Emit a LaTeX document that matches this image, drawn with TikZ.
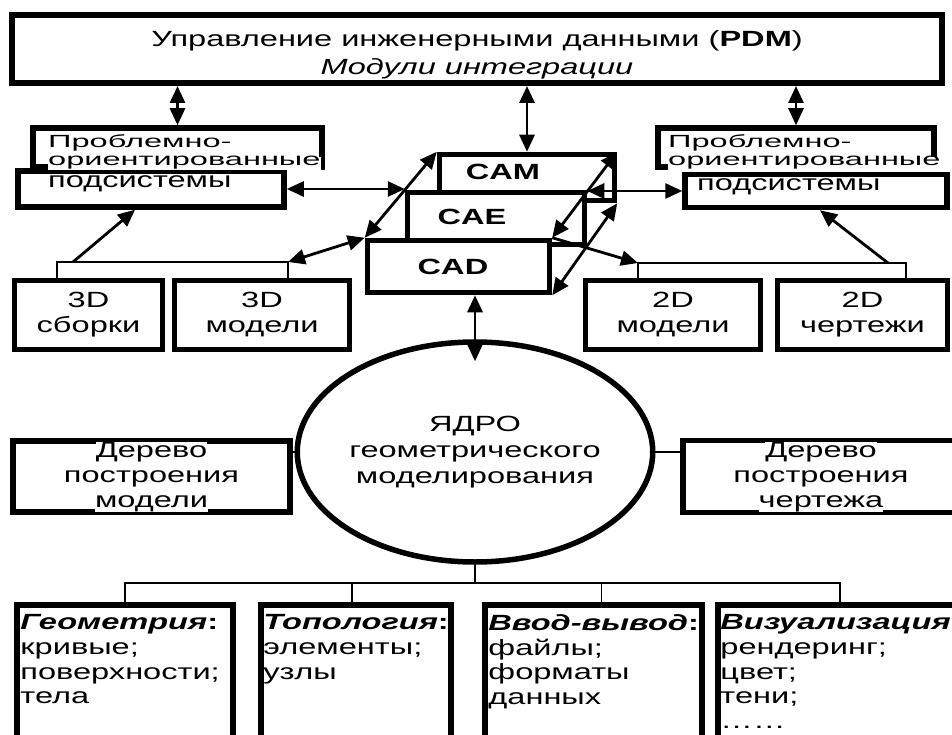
\documentclass[tikz,border=0pt]{standalone}
\usepackage{fontspec}
\setmainfont{Liberation Sans}[FakeStretch=1.48]
\usetikzlibrary{arrows.meta,shapes.geometric}

\newcommand{\fs}{\fontsize{22}{25}\selectfont}
\newcommand{\wb}[1]{{\fboxsep=0pt\colorbox{white}{#1}}}
\newcommand{\squeeze}[1]{\scalebox{1}[0.8]{#1}}

\tikzstyle{blk} = [rectangle, draw=black, line width=5.5pt, fill=white, inner sep=0pt, align=center]
\tikzstyle{txt} = [inner sep=0pt, align=center]
\tikzstyle{tie} = [line width=1.6pt]
\tikzstyle{arr} = [line width=2.8pt, >={Triangle[length=17pt,width=15pt]}]

\begin{document}
\begin{tikzpicture}[x=1pt, y=-1pt, font=\fs]
\useasboundingbox (0,0) rectangle (952,735);

% PDM
\node (pdm) [blk, line width=6pt, minimum width=930pt, minimum height=68pt] at (477,49) {};
\node (pdmtext) [txt, font=\fontsize{22}{28}\selectfont] at (477,55) {Управление инженерными данными (\textbf{PDM})\\\textit{Модули интеграции}};

% problem-oriented subsystems
\node (lback) [blk, minimum width=289pt, minimum height=39pt] at (177.5,147.5) {};
\node (lfront) [blk, minimum width=266pt, minimum height=36pt] at (151,189) {};
\node (lsub2) [txt, fill=white, anchor=base west] at (48,166) {\squeeze{ориентированные}};
\node (lsub1) [txt, fill=white, anchor=base west] at (48,148) {\squeeze{Проблемно-}};
\node (lsub3) [txt, anchor=base west] at (48,188) {подсистемы};

\node (rback) [blk, minimum width=276pt, minimum height=39pt] at (796,147.5) {};
\node (rfront) [blk, minimum width=262pt, minimum height=33pt] at (816,191) {};
\node (rsub2) [txt, fill=white, anchor=base west] at (668,166) {\squeeze{ориентированные}};
\node (rsub1) [txt, fill=white, anchor=base west] at (668,148) {\squeeze{Проблемно-}};
\node (rsub3) [txt, anchor=base west] at (697,191) {подсистемы};

% CAM / CAE / CAD
\node (cam) [blk, minimum width=175pt, minimum height=46pt] at (527,177.5) {};
\node (cae) [blk, minimum width=177pt, minimum height=52pt] at (496,218.5) {};
\node (cad) [blk, minimum width=182pt, minimum height=52pt] at (458.5,266.5) {};
\node (camlbl) [txt, font=\fs\bfseries] at (503,172) {CAM};
\node (caelbl) [txt, font=\fs\bfseries] at (472,217) {CAE};
\node (cadlbl) [txt, font=\fs\bfseries] at (453,267) {CAD};

\draw [arr, <->] (lback.north) -- (lback.north |- pdm.south);
\draw [arr, <->] (cam.north) -- (cam.north |- pdm.south);
\draw [arr, <->] (rback.north) -- (rback.north |- pdm.south);
\draw [arr, <->] (cad.north west) -- (cam.north west);
\draw [arr, <->] (cad.north east) -- (cam.north east);
\draw [arr, <->] (cad.south east) -- (cam.south east);
\draw [arr, <->] (lfront.east) -- (lfront.east -| cae.west);
\draw [arr, <->] (rfront.west) -- (rfront.west -| cae.east);

% 3D / 2D
\node (sb3) [blk, minimum width=148pt, minimum height=69pt] at (88.5,315) {3D\\сборки};
\node (md3) [blk, minimum width=175pt, minimum height=69pt] at (262,315) {3D\\модели};
\node (md2) [blk, minimum width=175pt, minimum height=69pt] at (673,315) {2D\\модели};
\node (dr2) [blk, minimum width=170pt, minimum height=69pt] at (862.5,315) {2D\\чертежи};

\coordinate (tl1) at (57,262);
\coordinate (tl2) at (288,262);
\coordinate (tr1) at (638,263);
\coordinate (tr2) at (906,263);
\coordinate (upl) at (73,262);
\coordinate (upr) at (888,263);
\draw [tie] (tl1 |- sb3.north) -- (tl1) -- (tl2) -- (tl2 |- md3.north);
\draw [tie] (tr1 |- md2.north) -- (tr1) -- (tr2) -- (tr2 |- dr2.north);
\draw [arr, ->] (upl) -- ([xshift=-16pt]lfront.south);
\draw [arr, ->] (upr) -- ([xshift=4pt]rfront.south);
\draw [arr, <->] (tl2) -- (cad.north west);
\draw [arr, ->] (cad.north east) -- (tr1);

% kernel
\node (core) [ellipse, draw, line width=5.5pt, minimum width=324pt, minimum height=220pt, align=center, inner sep=0pt, font=\fontsize{22}{26}\selectfont] at (475,452) {ЯДРО\\геометрического\\моделирования};
\draw [arr, <->] (cad.south -| core.north) -- ([yshift=-22pt]core.north);

\node (ltree) [blk, minimum width=277pt, minimum height=71pt] at (151.5,476.5) {};
\node (ltreetxt) [txt] at (151.5,477) {\wb{Дерево}\\\wb{построения}\\\wb{модели}};
\node (rtree) [blk, minimum width=282pt, minimum height=72pt] at (824,476.5) {};
\node (rtreetxt) [txt] at (821,477) {\wb{Дерево}\\\wb{построения}\\\wb{чертежа}};
\draw [tie] (core.west) -- (core.west -| ltree.east);
\draw [tie] (core.east) -- (core.east -| rtree.west);

% modules
\node (geo) [blk, minimum width=216pt, minimum height=155pt] at (125,682.5) {};
\node (topo) [blk, minimum width=190pt, minimum height=155pt] at (356,682.5) {};
\node (io) [blk, minimum width=217pt, minimum height=155pt] at (593.5,682.5) {};
\node (vis) [blk, minimum width=252pt, minimum height=155pt] at (844,682.5) {};

\coordinate (bus) at (475,583);
\draw [tie] (core.south) -- (bus);
\draw [tie] (geo.north) |- (bus) -| ([xshift=-4pt]vis.north);
\draw [tie] ([xshift=-4pt]topo.north) -- ([xshift=-4pt]topo.north |- bus);
\draw [tie] ([xshift=8pt]io.north) -- ([xshift=8pt]io.north |- bus);

\node (geotxt) [txt, align=left, anchor=north west, font=\fontsize{22}{24.8}\selectfont] at ([xshift=6pt,yshift=-12pt]geo.north west) {\textbf{\textit{Геометрия}:}\\кривые;\\поверхности;\\тела};
\node (topotxt) [txt, align=left, anchor=north west, font=\fontsize{22}{24.8}\selectfont] at ([xshift=5pt,yshift=-12pt]topo.north west) {\textbf{\textit{Топология}:}\\элементы;\\узлы};
\node (iotxt) [txt, align=left, anchor=north west, font=\fontsize{22}{24.8}\selectfont] at ([xshift=6pt,yshift=-12pt]io.north west) {\textbf{\textit{Ввод-вывод}:}\\файлы;\\форматы\\данных};
\node (vistxt) [txt, align=left, anchor=north west, font=\fontsize{22}{24.8}\selectfont] at ([xshift=5pt,yshift=-12pt]vis.north west) {\textbf{\textit{Визуализация}}\\рендеринг;\\цвет;\\тени;\\……};
\end{tikzpicture}
\end{document}
